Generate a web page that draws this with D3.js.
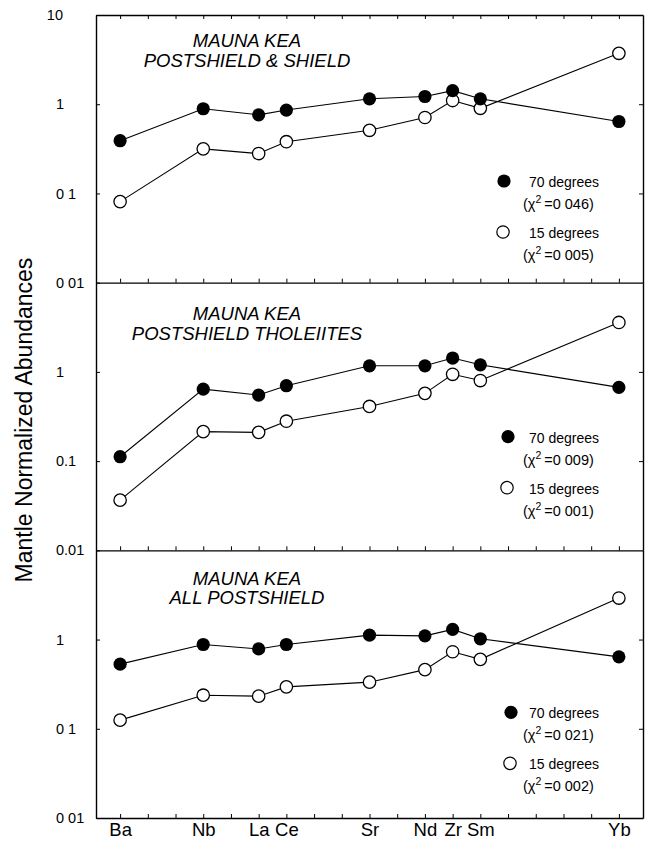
<!DOCTYPE html>
<html>
<head>
<meta charset="utf-8">
<script src="https://cdn.jsdelivr.net/npm/d3@7"></script>
<style>
  body { margin: 0; background: #fff; }
  svg { display: block; font-family: "Liberation Sans", Arial, sans-serif; }
</style>
</head>
<body>
<div id="plot"></div>
<script>
// elements along the x axis and their slot in the spidergram order
const elements = ["Ba", "Nb", "La", "Ce", "Sr", "Nd", "Zr", "Sm", "Yb"];
const elementSlot = [0, 3, 5, 6, 9, 11, 12, 13, 18];

// mantle normalized abundances
const shield70 = [0.39, 0.89, 0.76, 0.86, 1.15, 1.22, 1.42, 1.15, 0.64];
const shield15 = [0.081, 0.316, 0.28, 0.38, 0.51, 0.71, 1.10, 0.90, 3.72];
const thol70 = [0.112, 0.64, 0.55, 0.70, 1.17, 1.17, 1.43, 1.20, 0.67];
const thol15 = [0.0365, 0.214, 0.21, 0.28, 0.41, 0.575, 0.94, 0.80, 3.58];
const allPost70 = [0.53, 0.88, 0.785, 0.88, 1.12, 1.10, 1.30, 1.02, 0.64];
const allPost15 = [0.125, 0.238, 0.232, 0.295, 0.333, 0.46, 0.73, 0.60, 2.92];

const titles = [
  ["MAUNA KEA", "POSTSHIELD & SHIELD"],
  ["MAUNA KEA", "POSTSHIELD THOLEIITES"],
  ["MAUNA KEA", "ALL POSTSHIELD"]
];
const chi70 = ["0 046", "0 009", "0 021"];
const chi15 = ["0 005", "0 001", "0 002"];

// y tick values and their printed labels per panel
const yTicks = [[10, 1, 0.1, 0.01], [1, 0.1, 0.01], [1, 0.1, 0.01]];
const yTickLabels = [["10", "1", "0 1", "0 01"], ["1", "0.1", "0.01"], ["1", "0 1", "0 01"]];

const panels = [
  {s70: shield70, s15: shield15},
  {s70: thol70, s15: thol15},
  {s70: allPost70, s15: allPost15}
];

// layout
const W = 649, H = 846;
const plotL = 96, plotR = 643, plotT = 15, plotB = 818;
const panelH = (plotB - plotT) / 3;
const legendY = [166, 154, 162];   // filled-marker offset from panel top
const legendX = [504, 508, 511];

const svg = d3.select("#plot").append("svg")
  .attr("width", W).attr("height", H);

const x = d3.scaleLinear().domain([-0.87, 18.87]).range([plotL, plotR]);

panels.forEach((p, k) => {
  const pTop = plotT + k * panelH, pBot = pTop + panelH;
  const y = d3.scaleLog().domain([0.01, 10]).range([pBot, pTop]);
  const g = svg.append("g");

  // left axis, labels left-aligned like the original
  const ay = g.append("g").attr("transform", `translate(${plotL},0)`)
    .call(d3.axisLeft(y).tickValues(yTicks[k]).tickSize(-4).tickSizeOuter(0)
      .tickFormat((d, i) => yTickLabels[k][i]));
  ay.selectAll("text")
    .attr("font-size", 14.5).attr("font-family", null).attr("fill", "#000")
    .attr("text-anchor", d => d >= 10 ? "end" : "start")
    .attr("x", d => d >= 10 ? -33 : -40);

  // right axis
  g.append("g").attr("transform", `translate(${plotR},0)`)
    .call(d3.axisRight(y).tickValues([1, 0.1]).tickSize(-4).tickSizeOuter(0).tickFormat(""));

  // bottom ticks
  g.append("g").attr("transform", `translate(0,${pBot})`)
    .call(d3.axisBottom(x).tickValues(d3.range(0, 19)).tickSize(-4).tickSizeOuter(0).tickFormat(""));
  if (k === 0) {
    g.append("g").attr("transform", `translate(0,${pTop})`)
      .call(d3.axisTop(x).tickValues(d3.range(0, 19)).tickSize(-4).tickSizeOuter(0).tickFormat(""));
  }

  // title
  const tt = g.append("text").attr("text-anchor", "middle")
    .attr("font-size", 18.5).attr("font-style", "italic");
  tt.append("tspan").attr("x", 247).attr("y", pTop + [32, 37, 35][k]).text(titles[k][0]);
  tt.append("tspan").attr("x", 247).attr("y", pTop + [52, 57, 54][k]).text(titles[k][1]);

  // series
  const line = d3.line().x((d, i) => x(elementSlot[i])).y(d => y(d));
  [p.s15, p.s70].forEach(s => {
    g.append("path").datum(s).attr("d", line)
      .attr("fill", "none").attr("stroke", "#000").attr("stroke-width", 1.1);
  });
  g.selectAll(".open").data(p.s15).enter().append("circle")
    .attr("cx", (d, i) => x(elementSlot[i])).attr("cy", d => y(d)).attr("r", 6.2)
    .attr("fill", "#fff").attr("stroke", "#000").attr("stroke-width", 1.3);
  g.selectAll(".full").data(p.s70).enter().append("circle")
    .attr("cx", (d, i) => x(elementSlot[i])).attr("cy", d => y(d)).attr("r", 6.6)
    .attr("fill", "#000");

  // legend
  const ly = pTop + legendY[k], lx = legendX[k];
  g.append("circle").attr("cx", lx).attr("cy", ly).attr("r", 6.6).attr("fill", "#000");
  g.append("circle").attr("cx", lx - 1).attr("cy", ly + 51).attr("r", 6.2)
    .attr("fill", "#fff").attr("stroke", "#000").attr("stroke-width", 1.2);
  const leg = [["70 degrees", chi70[k], 0], ["15 degrees", chi15[k], 51]];
  leg.forEach(([lab, chi, off]) => {
    g.append("text").attr("x", 529).attr("y", ly + off + 6).attr("font-size", 14).text(lab);
    const c = g.append("text").attr("x", 523).attr("y", ly + off + 28).attr("font-size", 14.5);
    c.append("tspan").text("(\u03c7");
    c.append("tspan").attr("dy", -6).attr("font-size", 10.5).text("2");
    c.append("tspan").attr("dy", 6).text("\u2009=" + chi + ")");
  });
});

// axis line styling
svg.selectAll(".domain").attr("stroke", "#000").attr("stroke-width", 1.4);
svg.selectAll(".tick line").attr("stroke", "#000").attr("stroke-width", 1);

// element labels along the bottom
svg.append("g").attr("transform", `translate(0,${plotB})`)
  .call(d3.axisBottom(x).tickValues(elementSlot).tickSize(0).tickPadding(5)
    .tickFormat((d, i) => elements[i]))
  .call(a => a.select(".domain").remove())
  .selectAll("text").attr("font-size", 18.5).attr("font-family", null).attr("fill", "#000");

// y axis title
svg.append("text")
  .attr("transform", "translate(32,420) rotate(-90)")
  .attr("text-anchor", "middle").attr("font-size", 23)
  .text("Mantle Normalized Abundances");
</script>
</body>
</html>
